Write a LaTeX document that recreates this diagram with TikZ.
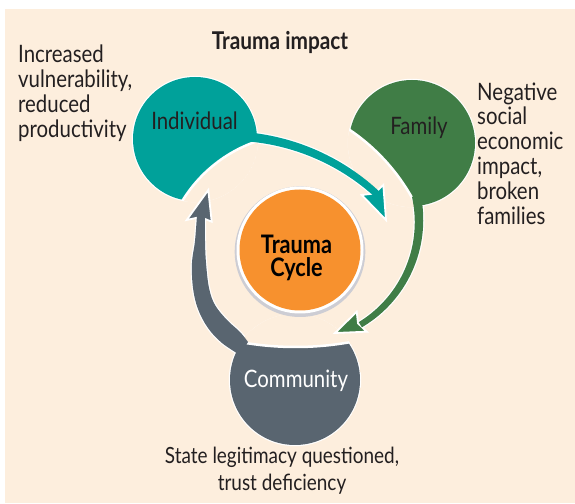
\documentclass[tikz,border=0pt]{standalone}
\usepackage{fontspec}
\setmainfont{Lato}[FakeStretch=0.85]
\definecolor{bgc}{RGB}{253,238,221}
\definecolor{tealc}{RGB}{0,161,154}
\definecolor{greenc}{RGB}{64,125,70}
\definecolor{grayc}{RGB}{89,101,112}
\definecolor{orangec}{RGB}{247,145,46}
\definecolor{textc}{RGB}{35,31,32}
\definecolor{shadowc}{RGB}{205,205,212}
\begin{document}
\begin{tikzpicture}[x=1pt,y=1pt,
  txt/.style={text=textc, inner sep=0pt, font=\fontsize{24}{24.8}\selectfont},
  headtip/.style={draw=white, line width=1.8pt, line join=miter},
  cutc/.style={fill=bgc, draw=white, line width=2.5pt},
  shaftline/.style={draw=white, line width=2.4pt}]
\useasboundingbox (0,0) rectangle (575,503);
\fill[bgc] (5,0) rectangle (575,494);

% shaft outlines (white)
\draw[shaftline] plot[domain=84:47,samples=60,variable=\t] ({228+(220+3.5+(\t-47)/37)*cos(\t)},{147+(220+3.5+(\t-47)/37)*sin(\t)}) -- plot[domain=47:84,samples=60,variable=\t] ({228+(220-3.5-(\t-47)/37)*cos(\t)},{147+(220-3.5-(\t-47)/37)*sin(\t)}) -- cycle;
\draw[shaftline] plot[domain=12:-59,samples=60,variable=\t] ({298+(121+3+1.5*(\t+59)/71)*cos(\t)},{282+(121+3+1.5*(\t+59)/71)*sin(\t)}) -- plot[domain=-59:12,samples=60,variable=\t] ({298+(121-3-1.5*(\t+59)/71)*cos(\t)},{282+(121-3-1.5*(\t+59)/71)*sin(\t)}) -- cycle;
\draw[shaftline] plot[smooth,tension=0.6] coordinates {(240,148) (222,160) (208,175) (198,194) (193,215) (192,240) (195,262) (197,288)} -- plot[smooth,tension=0.6] coordinates {(205,288) (205,262) (206,240) (209,215) (215,198) (227,183) (240,171) (248,161)} -- cycle;

% blobs
\begin{scope}
\clip (195,364) circle (63.2);
\fill[white] (195,364) circle (63.2);
\fill[tealc] (195,364) circle (62);
\filldraw[cutc] (301.8,229.1) circle (140);
\end{scope}
\begin{scope}
\clip (412,360) circle (64.2);
\fill[white] (412,360) circle (64.2);
\fill[greenc] (412,360) circle (63);
\filldraw[cutc] (237.5,207.5) circle (200);
\end{scope}
\begin{scope}
\clip (295,123) circle (66.2);
\fill[white] (295,123) circle (66.2);
\fill[grayc] (295,123) circle (65);
\filldraw[cutc] (295.5,464) circle (308);
\end{scope}

% arrow heads
\filldraw[headtip, fill=tealc] (386,283) -- (361.7,308) -- (374.3,309.5) -- (383.3,318) -- cycle;
\filldraw[headtip, fill=greenc] (335,170) -- (356.7,191.3) -- (358,179.7) -- (366.7,171.3) -- cycle;
\filldraw[headtip, fill=grayc] (208.3,313) -- (186.7,283) -- (200.3,286) -- (211.7,281.3) -- cycle;

% shafts
\fill[tealc] plot[domain=84:47,samples=60,variable=\t] ({228+(220+3.5+(\t-47)/37)*cos(\t)},{147+(220+3.5+(\t-47)/37)*sin(\t)}) -- plot[domain=47:84,samples=60,variable=\t] ({228+(220-3.5-(\t-47)/37)*cos(\t)},{147+(220-3.5-(\t-47)/37)*sin(\t)}) -- cycle;
\fill[greenc] plot[domain=12:-59,samples=60,variable=\t] ({298+(121+3+1.5*(\t+59)/71)*cos(\t)},{282+(121+3+1.5*(\t+59)/71)*sin(\t)}) -- plot[domain=-59:12,samples=60,variable=\t] ({298+(121-3-1.5*(\t+59)/71)*cos(\t)},{282+(121-3-1.5*(\t+59)/71)*sin(\t)}) -- cycle;
\fill[grayc] plot[smooth,tension=0.6] coordinates {(240,148) (222,160) (208,175) (198,194) (193,215) (192,240) (195,262) (197,288)} -- plot[smooth,tension=0.6] coordinates {(205,288) (205,262) (206,240) (209,215) (215,198) (227,183) (240,171) (248,161)} -- cycle;

% centre circle
\fill[shadowc] (300,251.3) circle (65.3);
\fill[white] (300,253) circle (63.5);
\fill[orangec] (300,253) circle (60.5);

% texts
\node[txt, font=\fontsize{24.5}{24}\selectfont\bfseries, anchor=base] (title) at (280,453) {Trauma impact};
\node[txt, anchor=north west, align=left] (lefttxt) at (18,458) {Increased\\vulnerability,\\reduced\\productivity};
\node[txt, anchor=north west, align=left] (righttxt) at (477,420.6) {Negative\\social\\economic\\impact,\\broken\\families};
\node[txt, font=\fontsize{22.3}{27.5}\selectfont, anchor=north, align=center] (bottomtxt) at (282,56.5) {State legitimacy questioned,\\trust deficiency};
\node[txt, anchor=base] (individual) at (194.5,373) {Individual};
\node[txt, anchor=base] (family) at (419,368) {Family};
\node[txt, text=white, anchor=base] (community) at (296,115) {Community};
\node[txt, font=\fontsize{25.5}{23}\selectfont\bfseries, anchor=north, align=center, text=black] (cycle) at (296.5,268) {Trauma\\Cycle};
\end{tikzpicture}
\end{document}
